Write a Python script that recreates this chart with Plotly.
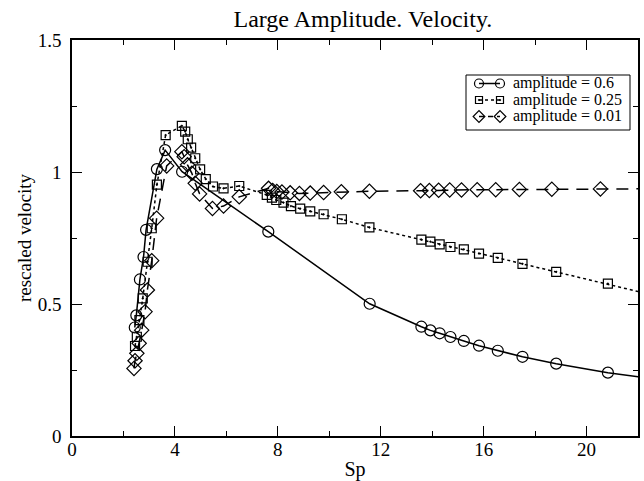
import plotly.graph_objects as go

# amplitude = 0.6 (circles, solid)
sp_06 = [2.44, 2.50, 2.64, 2.78, 2.88, 3.30, 3.62, 4.28, 7.63, 11.57, 13.58, 13.93, 14.29,
         14.71, 15.23, 15.82, 16.55, 17.51, 18.82, 20.83, 23.6]
vel_06 = [0.411, 0.457, 0.593, 0.678, 0.781, 1.011, 1.083, 1.001, 0.774, 0.501, 0.414, 0.400,
          0.389, 0.375, 0.360, 0.342, 0.323, 0.300, 0.274, 0.240, 0.203]

# amplitude = 0.25 (squares, dotted)
sp_025 = [2.45, 2.52, 2.62, 2.75, 2.94, 3.10, 3.30, 3.64, 4.27, 4.40, 4.50, 4.63, 4.79, 4.98,
          5.20, 5.48, 5.89, 6.50, 7.57, 7.77, 7.94, 8.22, 8.51, 8.87, 9.26, 9.78, 10.49, 11.56,
          13.58, 13.93, 14.29, 14.71, 15.23, 15.82, 16.55, 17.51, 18.82, 20.83, 23.6]
vel_025 = [0.341, 0.376, 0.439, 0.521, 0.660, 0.787, 0.952, 1.140, 1.175, 1.153, 1.124, 1.092,
           1.052, 1.010, 0.973, 0.945, 0.938, 0.947, 0.913, 0.903, 0.894, 0.884, 0.871, 0.861,
           0.851, 0.840, 0.821, 0.790, 0.744, 0.736, 0.726, 0.716, 0.707, 0.691, 0.675, 0.652,
           0.622, 0.577, 0.51]

# amplitude = 0.01 (diamonds, dashed)
sp_001 = [2.41, 2.45, 2.52, 2.61, 2.71, 2.84, 2.93, 3.10, 3.29, 3.68, 4.27, 4.36, 4.49, 4.66,
          4.79, 4.96, 5.46, 5.89, 6.50, 7.64, 7.80, 7.96, 8.16, 8.48, 8.84, 9.26, 9.78, 10.47,
          11.56, 13.55, 13.89, 14.25, 14.68, 15.14, 15.75, 16.47, 17.39, 18.65, 20.54, 23.5]
vel_001 = [0.256, 0.285, 0.313, 0.351, 0.401, 0.471, 0.553, 0.664, 0.825, 1.023, 1.077, 1.058,
           1.027, 0.995, 0.957, 0.917, 0.862, 0.871, 0.906, 0.938, 0.930, 0.926, 0.924, 0.921,
           0.919, 0.920, 0.922, 0.925, 0.927, 0.929, 0.930, 0.931, 0.932, 0.932, 0.933, 0.933,
           0.934, 0.935, 0.936, 0.937]

series_names = ["amplitude = 0.6", "amplitude = 0.25", "amplitude = 0.01"]

x_ticks = [0, 4, 8, 12, 16, 20]
y_ticks = [0, 0.5, 1, 1.5]
y_tick_labels = ["0", "0.5", "1", "1.5"]

FONT = "Liberation Serif"

styles = [
    dict(dash="solid", symbol="circle-open", size=11),
    dict(dash="dot", symbol="square-open-dot", size=9),
    dict(dash="12px,8px", symbol="diamond-open", size=11),
]
legend_dash = ["solid", "dot", "5px,4px"]
data = [(sp_06, vel_06), (sp_025, vel_025), (sp_001, vel_001)]

fig = go.Figure()
for (xs, ys), st, name in zip(data, styles, series_names):
    fig.add_trace(go.Scatter(
        x=xs, y=ys, mode="lines+markers", name=name, showlegend=False,
        line=dict(color="black", width=1.5, dash=st["dash"]),
        marker=dict(symbol=st["symbol"], size=st["size"], color="black", line=dict(width=1.2)),
    ))

# hand-drawn legend (sample line with a marker at each end, like the original)
# legend axis works in page-pixel units of the legend box
LEG_X0, LEG_X1, LEG_Y0, LEG_Y1 = 466, 630, 75, 130
PLOT_L, PLOT_R, PLOT_T, PLOT_B = 72, 638, 40, 436
row_y = [83.5, 100.0, 116.5]
for i, (st, name) in enumerate(zip(styles, series_names)):
    fig.add_trace(go.Scatter(
        x=[479, 500], y=[row_y[i], row_y[i]], xaxis="x2", yaxis="y2",
        mode="lines+markers", showlegend=False, hoverinfo="skip",
        line=dict(color="black", width=1.5, dash=legend_dash[i]),
        marker=dict(symbol=st["symbol"], size=st["size"] - 2, color="black", line=dict(width=1.2)),
        cliponaxis=False,
    ))
    fig.add_annotation(x=511, y=row_y[i], xref="x2", yref="y2", text=name, showarrow=False,
                       xanchor="left", yanchor="middle",
                       font=dict(family=FONT, size=16, color="black"))

fig.add_shape(type="rect", xref="paper", yref="paper",
              x0=(LEG_X0 - PLOT_L) / (PLOT_R - PLOT_L), x1=(LEG_X1 - PLOT_L) / (PLOT_R - PLOT_L),
              y0=(PLOT_B - LEG_Y1) / (PLOT_B - PLOT_T), y1=(PLOT_B - LEG_Y0) / (PLOT_B - PLOT_T),
              line=dict(color="black", width=1), fillcolor="rgba(0,0,0,0)", layer="above")

axis_common = dict(
    showgrid=False, zeroline=False, showline=True, linecolor="black", linewidth=1.5,
    mirror="allticks", ticks="inside", ticklen=10, tickwidth=1.2, tickcolor="black",
    tickfont=dict(family=FONT, size=19, color="black"), automargin=False,
)

fig.update_layout(
    xaxis=dict(
        range=[0, 22], tickvals=x_ticks, ticktext=[str(v) for v in x_ticks],
        minor=dict(dtick=2, tick0=0, ticks="inside", ticklen=5, tickwidth=1.2, tickcolor="black"),
        title=dict(text="Sp", font=dict(family=FONT, size=20, color="black"), standoff=4),
        ticklabelstandoff=-5,
        **axis_common,
    ),
    yaxis=dict(
        range=[0, 1.5], tickvals=y_ticks, ticktext=y_tick_labels,
        minor=dict(dtick=0.25, tick0=0, ticks="inside", ticklen=5, tickwidth=1.2, tickcolor="black"),
        title=dict(text="rescaled velocity", font=dict(family=FONT, size=19, color="black"), standoff=1),
        ticklabelstandoff=5,
        **axis_common,
    ),
    xaxis2=dict(
        domain=[(LEG_X0 - PLOT_L) / (PLOT_R - PLOT_L), (LEG_X1 - PLOT_L) / (PLOT_R - PLOT_L)],
        range=[LEG_X0, LEG_X1], anchor="y2", visible=False, fixedrange=True,
    ),
    yaxis2=dict(
        domain=[(PLOT_B - LEG_Y1) / (PLOT_B - PLOT_T), (PLOT_B - LEG_Y0) / (PLOT_B - PLOT_T)],
        range=[LEG_Y1, LEG_Y0], anchor="x2", visible=False, fixedrange=True,
    ),
    width=644, height=481,
    margin=dict(l=PLOT_L, r=644 - PLOT_R, t=PLOT_T, b=481 - PLOT_B, autoexpand=False),
    paper_bgcolor="white", plot_bgcolor="white",
    font=dict(family=FONT, color="black"),
    title=dict(text="Large Amplitude. Velocity.", x=0.514, xref="paper", xanchor="center",
               y=1 - 19 / 481, yref="container", yanchor="middle",
               font=dict(family=FONT, size=24, color="black")),
    showlegend=False,
)

fig.write_html(
    "out.html",
    config={"displayModeBar": False},
    post_script="document.body.style.margin='0';document.body.style.overflow='hidden';",
)
